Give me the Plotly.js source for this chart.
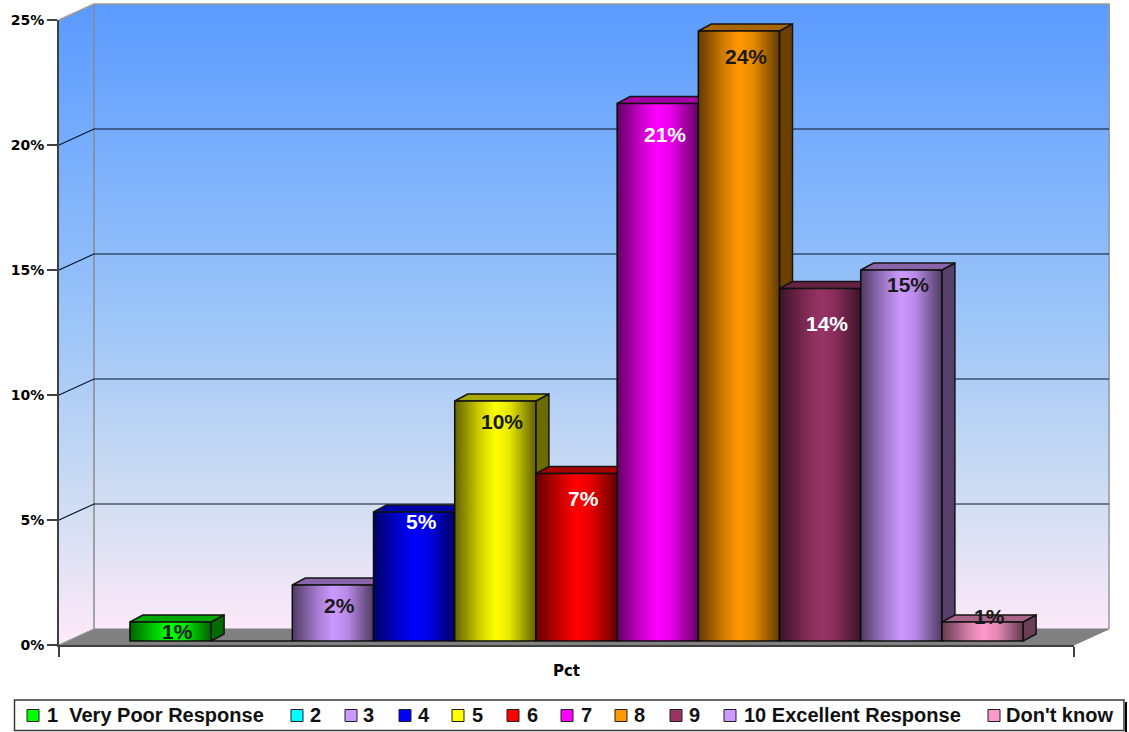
<!DOCTYPE html>
<html><head><meta charset="utf-8">
<script src="https://cdn.plot.ly/plotly-3.0.1.min.js"></script>
<style>html,body{margin:0;padding:0;background:#fff}#c{width:1129px;height:732px}</style>
</head><body><div id="c"></div>
<script>
// ---- data ----
const categories = ['1  Very Poor Response','2','3','4','5','6','7','8','9','10 Excellent Response',"Don't know"];
const values = [0.76,0,2.24,5.16,9.6,6.7,21.5,24.4,14.1,14.84,0.76];
const labels = ['1%','','2%','5%','10%','7%','21%','24%','14%','15%','1%'];
const colors = ['#00ff00','#00ffff','#cc99ff','#0000ff','#ffff00','#ff0000','#ff00ff','#ff9900','#993366','#cc99ff','#ff99cc'];
const labelColors = ['#1a1a1a','','#1a1a1a','#ffffff','#1a1a1a','#ffffff','#ffffff','#1a1a1a','#ffffff','#1a1a1a','#1a1a1a'];
const yTicks = [0,5,10,15,20,25];
// ---- layout constants ----
const W=1129,H=732,L=59,R=55,T=20,B=87;
const PW=W-L-R,PH=H-T-B;
const px=1/PW, py=25/PH;              // axis units per pixel
const WALL_DX=35*px, WALL_DY=16*py;   // depth of the chart box
const BAR_DX=13*px, BAR_DY=7*py;      // depth of a bar
const LIFT=4*py;                      // bars stand 4px behind the front edge
const SHIFT=10*px;                    // and 10px to the right
const GAP=0.12, SLOT=(1-GAP)/categories.length;
const labelDrop=[9,0,20,9,20,25,31,25,35,14,-6]; // px from bar top to label centre
const labelRight=7;
const swatchX=[27,291,345,399,452,507,561,615,670,724,988];
const textX=[46,309,362,417,471,526,580,633,688,743,1005];
const pxX=x=>(x-L)/PW, pxY=y=>(H-B-y)/PH;

function shade(hex,f){const n=parseInt(hex.slice(1),16);
  return 'rgb('+[(n>>16)&255,(n>>8)&255,n&255].map(v=>Math.round(v*f)).join(',')+')';}

// wall gradient picture
function wallsImage(){
  const c=document.createElement('canvas');c.width=W;c.height=H;const g=c.getContext('2d');
  const grad=(y0,y1)=>{const a=g.createLinearGradient(0,y0,0,y1);
    a.addColorStop(0,'#5b9bff');a.addColorStop(.5,'#9cc5f8');a.addColorStop(.8,'#d2def2');a.addColorStop(1,'#fce9f9');return a;};
  g.fillStyle=grad(4,629);g.fillRect(94,4,1016,625);
  g.fillStyle=grad(12,637);g.beginPath();g.moveTo(59,20);g.lineTo(94,4);g.lineTo(94,629);g.lineTo(59,645);g.closePath();g.fill();
  return c.toDataURL();
}
// dark-edged overlay for the bar fronts
function barShadeImage(){
  const c=document.createElement('canvas');c.width=82;c.height=4;const g=c.getContext('2d');
  const a=g.createLinearGradient(0,0,82,0);
  a.addColorStop(0,'rgba(0,0,0,.62)');a.addColorStop(.3,'rgba(0,0,0,.2)');a.addColorStop(.5,'rgba(0,0,0,0)');
  a.addColorStop(.68,'rgba(0,0,0,.1)');a.addColorStop(1,'rgba(0,0,0,.62)');
  g.fillStyle=a;g.fillRect(0,0,82,4);return c.toDataURL();
}

const poly=(xs,ys,fill,line,w)=>({type:'scatter',mode:'lines',x:xs,y:ys,fill:fill?'toself':'none',fillcolor:fill||undefined,
  line:{color:line,width:w===undefined?1.5:w},hoverinfo:'skip',showlegend:false,xaxis:'x',yaxis:'y'});

const xL=-0.5, xR=0.5;
// paper-space path from axis units (the box reaches past the axes, so it cannot be clipped to them)
const path=pts=>pts.map((p,i)=>(i?'L':'M')+(p[0]-xL)+','+(p[1]/25)).join(' ');
const wallShape=(pts,fill,color,w)=>({type:'path',xref:'paper',yref:'paper',layer:'below',path:path(pts),
  fillcolor:fill||'rgba(0,0,0,0)',line:{color,width:w}});

const traces=[];
// bar sides and tops, left to right
const barLeft=i=>-(1-GAP)/2+i*SLOT+SHIFT;
values.forEach((v,i)=>{
  if(!v) return;
  const l=barLeft(i), r=l+SLOT, t=v+LIFT, b=LIFT;
  traces.push(poly([r,r+BAR_DX,r+BAR_DX,r,r],[b,b+BAR_DY,t+BAR_DY,t,b],shade(colors[i],.42),'#151515'));
  traces.push(poly([l,l+BAR_DX,r+BAR_DX,r,l],[t,t+BAR_DY,t+BAR_DY,t,t],shade(colors[i],.66),'#151515'));
});
// bar fronts
categories.forEach((n,i)=>{
  traces.push({type:'bar',name:n,x:['Pct'],y:[values[i]],xaxis:'x2',yaxis:'y2',
    marker:{color:colors[i],line:{color:'#151515',width:1.5}},showlegend:false,
    hovertemplate:n+': '+values[i]+'%<extra></extra>'});
});

const images=[{source:wallsImage(),xref:'paper',yref:'paper',x:-L/PW,y:1+T/PH,sizex:W/PW,sizey:H/PH,
  xanchor:'left',yanchor:'top',sizing:'stretch',layer:'below'}];
const shadeSrc=barShadeImage();
values.forEach((v,i)=>{ if(!v) return;
  images.push({source:shadeSrc,xref:'x',yref:'y',x:barLeft(i),y:v+LIFT,sizex:SLOT,sizey:v,
    xanchor:'left',yanchor:'top',sizing:'stretch',layer:'above'});
});

const annotations=[];
values.forEach((v,i)=>{ if(!labels[i]) return;
  annotations.push({xref:'x',yref:'y',x:barLeft(i)+SLOT/2,y:v+LIFT,xshift:labelRight,yshift:-labelDrop[i],
    text:labels[i],showarrow:false,xanchor:'center',yanchor:'middle',
    font:{family:'Liberation Sans',size:21,color:labelColors[i],weight:700}});
});
const shapes=[
  // floor
  wallShape([[xL,0],[xL+WALL_DX,WALL_DY],[xR+WALL_DX,WALL_DY],[xR,0],[xL,0]],'#808080','#808080',1),
  // box edges
  wallShape([[xL,25],[xL+WALL_DX,25+WALL_DY],[xR+WALL_DX,25+WALL_DY],[xR+WALL_DX,WALL_DY]],null,'#9a9a9a',1.5),
  wallShape([[xL+WALL_DX,25+WALL_DY],[xL+WALL_DX,WALL_DY]],null,'#8a8a8a',1.5),
  wallShape([[xL,0],[xL+WALL_DX,WALL_DY]],null,'#9a9a9a',1),
  // legend frame
  {type:'rect',xref:'paper',yref:'paper',x0:pxX(1125),x1:pxX(1127),y0:pxY(702),y1:pxY(733),fillcolor:'#000',line:{width:0}},
  {type:'rect',xref:'paper',yref:'paper',x0:pxX(14.5),x1:pxX(1124),y0:pxY(700),y1:pxY(730.5),fillcolor:'#fff',line:{color:'#3a3a3a',width:1.5}}
];
// grid lines on side and back wall
yTicks.filter(v=>v>0&&v<25).forEach(v=>{
  shapes.push(wallShape([[xL,v],[xL+WALL_DX,v+WALL_DY],[xR+WALL_DX,v+WALL_DY]],null,'#06122a',1.2));
});
categories.forEach((n,i)=>{
  shapes.push({type:'rect',xref:'paper',yref:'paper',x0:pxX(swatchX[i]),x1:pxX(swatchX[i]+12),y0:pxY(709.5),y1:pxY(721.5),
    fillcolor:colors[i],line:{color:'#202020',width:1}});
  annotations.push({xref:'paper',yref:'paper',x:pxX(textX[i]),y:pxY(715),text:n.replace(/ /g,'\u00a0'),showarrow:false,
    xanchor:'left',yanchor:'middle',borderpad:0,font:{family:'Liberation Sans',size:20,color:'#111',weight:700}});
});

const layout={width:W,height:H,margin:{l:L,r:R,t:T,b:B,pad:0},paper_bgcolor:'#fff',plot_bgcolor:'rgba(0,0,0,0)',
  showlegend:false,barmode:'group',bargap:GAP,bargroupgap:0,images,shapes,annotations,
  font:{family:'DejaVu Sans',color:'#000'},
  xaxis:{type:'linear',range:[xL,xR],tickmode:'array',tickvals:[xL,xR],ticktext:['',''],ticks:'outside',ticklen:10,tickcolor:'#404040',tickwidth:1.5,
    showgrid:false,zeroline:false,showline:true,linecolor:'#404040',linewidth:2,fixedrange:true,
    title:{text:'Pct',standoff:7,font:{family:'DejaVu Sans',size:15,weight:700,color:'#000'}}},
  yaxis:{type:'linear',range:[0,25],tickmode:'array',tickvals:yTicks,ticktext:yTicks.map(v=>v+'%'),ticks:'outside',ticklen:10,tickcolor:'#404040',tickwidth:1.5,
    showgrid:false,zeroline:false,showline:true,linecolor:'#404040',linewidth:2,fixedrange:true,
    tickfont:{family:'DejaVu Sans',size:14,weight:700,color:'#000'}},
  xaxis2:{type:'category',overlaying:'x',anchor:'y2',range:[-0.5-SHIFT,0.5-SHIFT],visible:false,fixedrange:true},
  yaxis2:{type:'linear',overlaying:'y',anchor:'x2',range:[-LIFT,25-LIFT],visible:false,fixedrange:true}
};
Plotly.newPlot('c',traces,layout,{displayModeBar:false,staticPlot:true});
</script></body></html>
